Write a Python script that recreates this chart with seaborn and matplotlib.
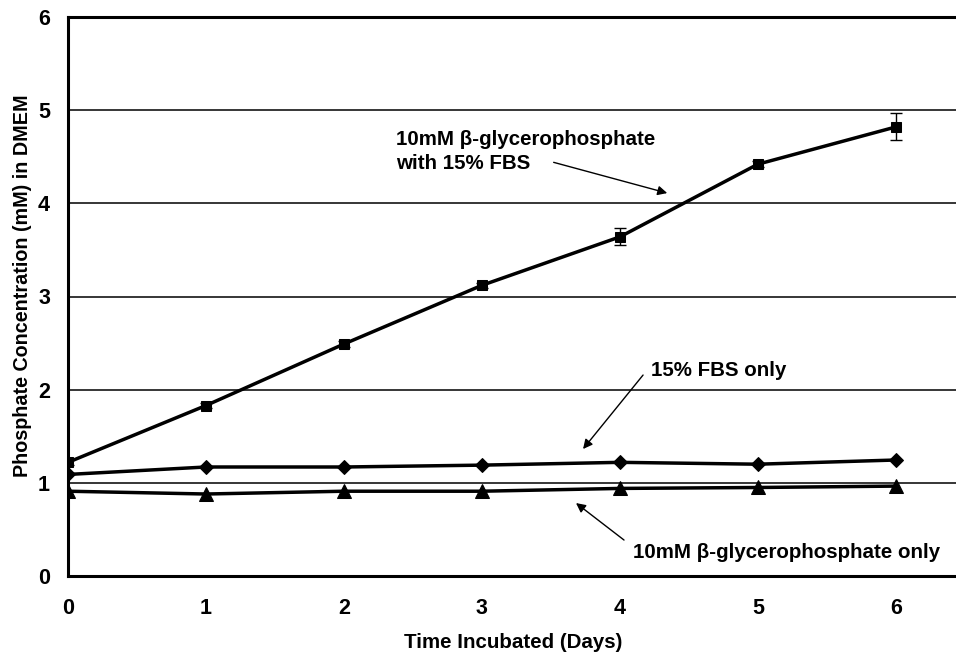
import matplotlib
matplotlib.use("Agg")
import matplotlib.pyplot as plt
import seaborn as sns
import pandas as pd

days = [0, 1, 2, 3, 4, 5, 6]
gly_fbs = [1.22, 1.83, 2.49, 3.12, 3.64, 4.42, 4.82]
gly_fbs_err = [0.03, 0.03, 0.03, 0.03, 0.09, 0.03, 0.145]
fbs_only = [1.09, 1.17, 1.17, 1.19, 1.22, 1.20, 1.245]
gly_only = [0.91, 0.88, 0.91, 0.91, 0.94, 0.95, 0.965]

xticks = [0, 1, 2, 3, 4, 5, 6]
yticks = [0, 1, 2, 3, 4, 5, 6]

sns.set_style("white")
plt.rcParams['font.family'] = ['Liberation Sans', 'DejaVu Sans']
plt.rcParams['font.weight'] = 'bold'
plt.rcParams['text.color'] = 'black'
plt.rcParams['axes.labelcolor'] = 'black'
plt.rcParams['xtick.color'] = 'black'
plt.rcParams['ytick.color'] = 'black'

fig = plt.figure(figsize=(9.56, 6.53), dpi=100)
ax = fig.add_axes([68/956, 77/653, 1 - 68/956 + 0.002, (576-17)/653])

df = pd.DataFrame({"day": days, "a": gly_fbs, "b": fbs_only, "c": gly_only})

for ys in [1, 2, 3, 4, 5]:
    ax.axhline(ys, color='black', lw=1.1, zorder=1)

ax.errorbar(df["day"], df["a"], yerr=gly_fbs_err, fmt='none', ecolor='black',
            elinewidth=1.0, capsize=4, capthick=1.0, zorder=3)
sns.lineplot(data=df, x="day", y="a", ax=ax, color='black', lw=2.5,
             marker='s', markersize=7.5, markeredgecolor='black', zorder=4)
sns.lineplot(data=df, x="day", y="b", ax=ax, color='black', lw=2.5,
             marker='D', markersize=7.5, markeredgecolor='black', zorder=4)
sns.lineplot(data=df, x="day", y="c", ax=ax, color='black', lw=2.5,
             marker='^', markersize=9.5, markeredgecolor='black', zorder=4)

ax.set_xlim(0, 6.45)
ax.set_ylim(0, 6)
ax.set_xticks(xticks)
ax.set_yticks(yticks)
ax.tick_params(axis='x', length=0, pad=16, labelsize=15.5, colors='black')
ax.tick_params(axis='y', length=0, pad=13, labelsize=15.5, colors='black')
for lab in ax.get_xticklabels() + ax.get_yticklabels():
    lab.set_fontweight('bold')

ax.set_xlabel("Time Incubated (Days)", fontsize=14.8, fontweight='bold',
              labelpad=10, color='black')
ax.set_ylabel("Phosphate Concentration (mM) in DMEM", fontsize=14.2,
              fontweight='bold', color='black')
ax.yaxis.set_label_coords(-0.041, 0.52)

for s in ['left', 'bottom', 'top']:
    ax.spines[s].set_visible(True)
    ax.spines[s].set_color('black')
    ax.spines[s].set_linewidth(2.2)
ax.spines['right'].set_visible(False)

arrow = dict(arrowstyle='-|>', color='black', lw=1.0, mutation_scale=14,
             shrinkA=0, shrinkB=0)
ax.text(2.375, 4.56, "10mM β-glycerophosphate\nwith 15% FBS", fontsize=14.8,
        fontweight='bold', ha='left', va='center', linespacing=1.32,
        color='black')
ax.annotate("", xy=(4.343, 4.11), xytext=(3.52, 4.44), arrowprops=arrow)

ax.text(4.227, 2.21, "15% FBS only", fontsize=14.8, fontweight='bold',
        ha='left', va='center', color='black')
ax.annotate("", xy=(3.733, 1.363), xytext=(4.168, 2.157), arrowprops=arrow)

ax.text(4.096, 0.2575, "10mM β-glycerophosphate only", fontsize=14.8,
        fontweight='bold', ha='left', va='center', color='black')
ax.annotate("", xy=(3.682, 0.783), xytext=(4.03, 0.386), arrowprops=arrow)

fig.savefig("out.png", dpi=100)
